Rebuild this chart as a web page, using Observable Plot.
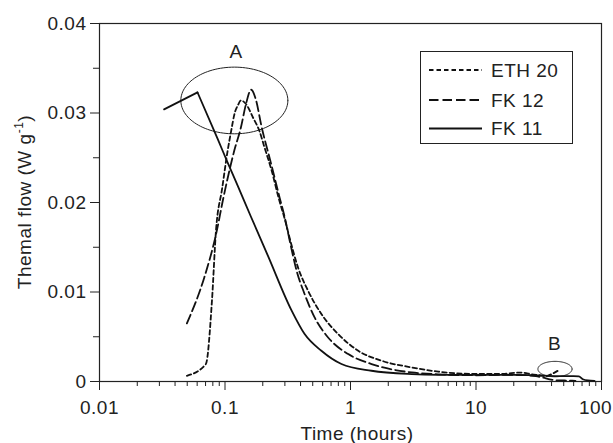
<!DOCTYPE html>
<html>
<head>
<meta charset="utf-8">
<script src="https://cdn.jsdelivr.net/npm/d3@7"></script>
<script src="https://cdn.jsdelivr.net/npm/@observablehq/plot@0.6"></script>
<style>
  html, body { margin: 0; padding: 0; background: #fff; }
  svg text { letter-spacing: 0.5px; }
</style>
</head>
<body>
<div id="chart"></div>
<script>
// ---- data (time in hours, thermal flow in W/g) ----
const seriesNames = ["ETH 20", "FK 12", "FK 11"];

const eth20Time = [0.0497, 0.0704, 0.0787, 0.0847, 0.095, 0.105, 0.112, 0.119, 0.127, 0.134, 0.147, 0.167, 0.188, 0.206, 0.235, 0.27, 0.30, 0.332, 0.3815, 0.4588, 0.586, 0.797, 1.152, 1.77, 3.08, 5, 10, 16, 23, 28, 32, 36, 41, 46];
const eth20Flow = [0.00064, 0.00195, 0.009, 0.0168, 0.0216, 0.0258, 0.028, 0.0299, 0.0309, 0.0314, 0.031, 0.0295, 0.028, 0.0262, 0.0236, 0.0203, 0.0181, 0.0157, 0.01275, 0.01015, 0.00754, 0.0053, 0.00343, 0.00232, 0.00157, 0.0011, 0.00085, 0.00085, 0.001, 0.0008, 0.0007, 0.0006, 0.0009, 0.0013];

const fk12Time = [0.0497, 0.0684, 0.085, 0.097, 0.1186, 0.134, 0.147, 0.1614, 0.177, 0.194, 0.2333, 0.2718, 0.2992, 0.3282, 0.37, 0.4305, 0.5176, 0.663, 0.959, 1.472, 3.08, 5, 10, 20, 30, 36, 42, 55, 62];
const fk12Flow = [0.0065, 0.01163, 0.0165, 0.0205, 0.0258, 0.0284, 0.031, 0.0326, 0.0314, 0.0287, 0.0243, 0.0206, 0.01834, 0.0157, 0.0125, 0.00978, 0.00716, 0.00492, 0.00306, 0.00195, 0.00101, 0.0008, 0.0007, 0.00075, 0.0006, 0.00035, 0.00015, 0.0001, 0.00008];

const fk11Time = [0.0327, 0.0604, 0.0874, 0.105, 0.1264, 0.161, 0.22, 0.3373, 0.431, 0.586, 0.847, 1.47, 3.08, 5, 10, 20, 30, 45, 60, 66, 71, 78, 88];
const fk11Flow = [0.0304, 0.0323, 0.0271, 0.02446, 0.02185, 0.01841, 0.01403, 0.0080, 0.0053, 0.00343, 0.00195, 0.0012, 0.00083, 0.00075, 0.00073, 0.00075, 0.00068, 0.0006, 0.0006, 0.00058, 0.00025, 0.00012, 0.00008];

const xMajorTicks = [0.01, 0.1, 1, 10, 100];
const xTickLabels = ["0.01", "0.1", "1", "10", "100"];
const yMajorTicks = [0, 0.01, 0.02, 0.03, 0.04];
const yTickLabels = ["0", "0.01", "0.02", "0.03", "0.04"];
const yMinorTicks = [0.005, 0.015, 0.025, 0.035];
const xMinorTicks = [];
for (const dec of [0.01, 0.1, 1, 10]) for (let k = 2; k <= 9; k++) xMinorTicks.push(+(dec * k).toPrecision(3));

// annotation ellipses: [centre time, centre flow, half-width in decades, half-height in W/g]
const ellipseA = [0.1187, 0.0314, 0.4264, 0.003725];
const ellipseB = [42.6, 0.00139, 0.136, 0.00086];
const annotationLabels = [
  {t: 0.1225, v: 0.03688, text: "A"},
  {t: 42.3, v: 0.00418, text: "B"}
];

function ellipsePoints([ct, cv, rx, ry], name) {
  const pts = [];
  for (let i = 0; i <= 120; i++) {
    const a = (i / 120) * 2 * Math.PI;
    pts.push({t: Math.pow(10, Math.log10(ct) + rx * Math.cos(a)), v: cv + ry * Math.sin(a), name});
  }
  return pts;
}

const toRows = (ts, vs) => ts.map((t, i) => ({t, v: vs[i]}));
const eth20 = toRows(eth20Time, eth20Flow);
const fk12 = toRows(fk12Time, fk12Flow);
const fk11 = toRows(fk11Time, fk11Flow);
const fk11Rise = fk11.slice(0, 2);   // sharp corner at the peak
const fk11Decay = fk11.slice(1);

const font = "Liberation Sans, Arial, Helvetica, sans-serif";
const fs = 19;
const dashShort = "4.5,3";
const dashLong = "9.5,4";

const plot = Plot.plot({
  width: 613,
  height: 443,
  marginLeft: 99,
  marginRight: 12,
  marginTop: 23,
  marginBottom: 62,
  style: {fontFamily: font, fontSize: fs + "px", color: "#222", background: "#fff"},
  x: {type: "log", domain: [0.01, 100]},
  y: {domain: [0, 0.04]},
  marks: [
    Plot.axisX({ticks: xMinorTicks, tickSize: 5, tickFormat: () => "", label: null, stroke: "#222"}),
    Plot.axisX({ticks: xMajorTicks, tickSize: 9, tickPadding: 10, tickFormat: d => xTickLabels[xMajorTicks.indexOf(d)], label: null, fontSize: fs, fill: "#222", stroke: "#222"}),
    Plot.axisY({ticks: yMinorTicks, tickSize: 6, tickFormat: () => "", label: null, stroke: "#222"}),
    Plot.axisY({ticks: yMajorTicks, tickSize: 9, tickPadding: 4, tickFormat: d => yTickLabels[yMajorTicks.indexOf(d)], label: null, fontSize: fs, fill: "#222", stroke: "#222"}),
    Plot.frame({stroke: "#222", strokeWidth: 1.2}),
    Plot.line(ellipsePoints(ellipseA, "A"), {x: "t", y: "v", stroke: "#222", strokeWidth: 1}),
    Plot.line(ellipsePoints(ellipseB, "B"), {x: "t", y: "v", stroke: "#222", strokeWidth: 1}),
    Plot.text(annotationLabels, {x: "t", y: "v", text: "text", fontSize: fs, fill: "#222"}),
    Plot.line(eth20, {x: "t", y: "v", stroke: "#111", strokeWidth: 1.8, strokeDasharray: dashShort, curve: "monotone-x"}),
    Plot.line(fk12, {x: "t", y: "v", stroke: "#111", strokeWidth: 1.8, strokeDasharray: dashLong, curve: "monotone-x"}),
    Plot.line(fk11Rise, {x: "t", y: "v", stroke: "#111", strokeWidth: 1.8, curve: "linear"}),
    Plot.line(fk11Decay, {x: "t", y: "v", stroke: "#111", strokeWidth: 1.8, curve: "monotone-x"})
  ]
});

document.getElementById("chart").appendChild(plot);

// keep the "100" tick label inside the picture
d3.select(plot).selectAll("text").filter(function () { return this.textContent === "100"; })
  .attr("dx", -6);

// axis titles and legend
const svg = d3.select(plot);
svg.append("text")
  .attr("x", 357).attr("y", 440)
  .attr("text-anchor", "middle")
  .attr("font-family", font).attr("font-size", fs).attr("fill", "#222")
  .text("Time (hours)");

const yl = svg.append("text")
  .attr("transform", "translate(31,202) rotate(-90)")
  .attr("text-anchor", "middle")
  .attr("font-family", font).attr("font-size", fs).attr("fill", "#222");
yl.append("tspan").text("Themal flow (W g");
yl.append("tspan").attr("font-size", 12).attr("dy", -8).text("-1");
yl.append("tspan").attr("dy", 8).text(")");

const lg = svg.append("g");
lg.append("rect").attr("x", 420.5).attr("y", 51.5).attr("width", 152).attr("height", 92)
  .attr("fill", "#fff").attr("stroke", "#222").attr("stroke-width", 1);
const dashes = [dashShort, dashLong, null];
const rowsY = [70, 100, 128.5];
seriesNames.forEach((name, i) => {
  const ln = lg.append("line").attr("x1", 429).attr("x2", 482).attr("y1", rowsY[i]).attr("y2", rowsY[i])
    .attr("stroke", "#111").attr("stroke-width", 1.8);
  if (dashes[i]) ln.attr("stroke-dasharray", dashes[i]);
  lg.append("text").attr("x", 491).attr("y", rowsY[i]).attr("dy", "0.36em")
    .attr("text-anchor", "start")
    .attr("font-family", font).attr("font-size", fs).attr("fill", "#222").text(name);
});
</script>
</body>
</html>
